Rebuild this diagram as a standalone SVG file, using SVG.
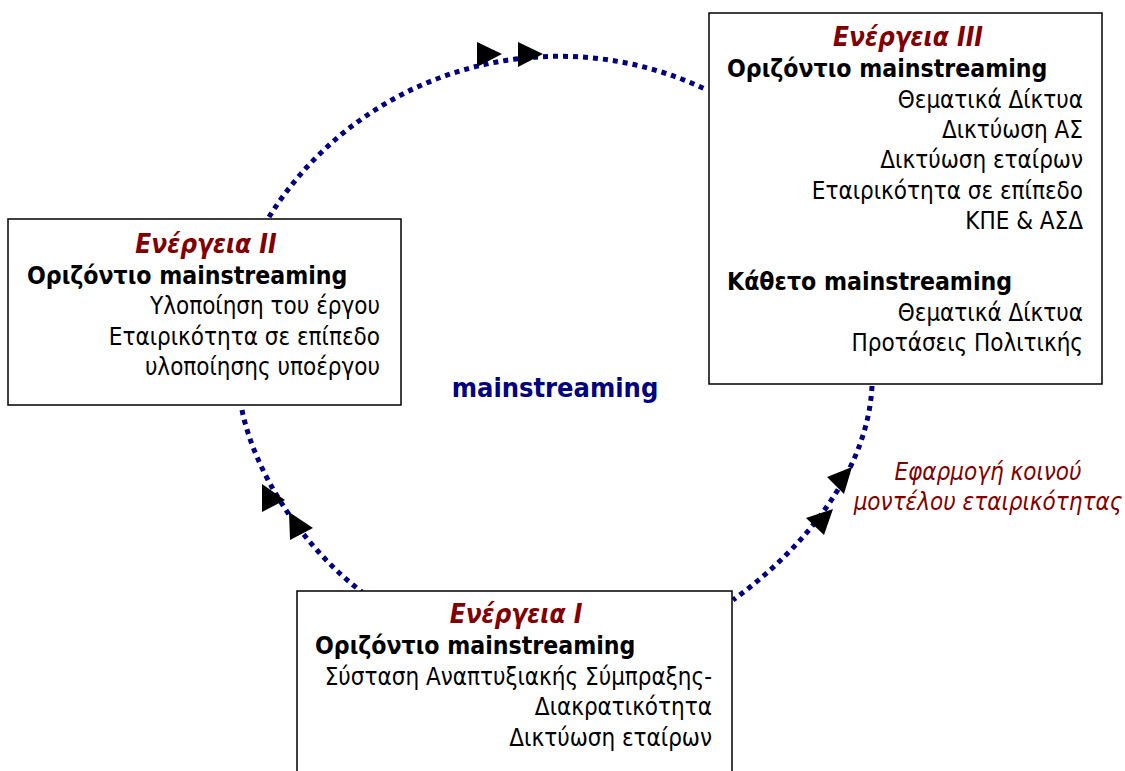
<svg xmlns="http://www.w3.org/2000/svg" width="1125" height="771" viewBox="0 0 1125 771">
<style>
text{font-family:"DejaVu Sans Condensed","DejaVu Sans",sans-serif;font-stretch:condensed;font-size:24px;fill:#000}
.box{fill:#fff;stroke:#000;stroke-width:1.5}
.act{font-weight:bold;font-style:italic;fill:#800000;text-anchor:middle;font-size:26px}
.hd{font-weight:bold;font-size:24.6px}
.r{text-anchor:end}
.lbl{font-style:italic;fill:#800000;text-anchor:middle;font-size:24px}
.mid{font-weight:bold;fill:#000080;text-anchor:middle;font-size:27px}
.dot{fill:none;stroke:#000080;stroke-width:5;stroke-dasharray:5 5}
.ah{fill:#000}
</style>
<rect width="1125" height="771" fill="#fff"/>
<g id="connectors">
<path class="dot" d="M269,217 A342,342 0 0 1 705,89"/>
<path class="dot" d="M242,410 C254,470 300,545 362,592"/>
<path class="dot" d="M872,386 C868,470 805,548 733,600"/>
<polygon class="ah" points="477,42 477,67 502,54"/>
<polygon class="ah" points="518,42 518,67 543,54"/>
<polygon class="ah" points="262,484 262,512 285,500"/>
<polygon class="ah" points="289,512 290,540 313,528"/>
<polygon class="ah" points="852,467 827,477 844,494"/>
<polygon class="ah" points="833,509 806,518 824,535"/>
</g>
<g id="label-mainstreaming">
<text class="mid" x="555" y="397">mainstreaming</text>
</g>
<g id="label-model">
<text class="lbl" x="988" y="480">Εφαρμογή κοινού</text>
<text class="lbl" x="988" y="510">μοντέλου εταιρικότητας</text>
</g>
<g id="node-energeia-3">
<rect class="box" x="709" y="13" width="393" height="371"/>
<text class="act" x="908" y="46">Ενέργεια III</text>
<text class="hd" x="727" y="77">Οριζόντιο mainstreaming</text>
<text class="r" x="1083" y="108">Θεματικά Δίκτυα</text>
<text class="r" x="1083" y="138">Δικτύωση ΑΣ</text>
<text class="r" x="1083" y="168">Δικτύωση εταίρων</text>
<text class="r" x="1083" y="199">Εταιρικότητα σε επίπεδο</text>
<text class="r" x="1083" y="229">ΚΠΕ &amp; ΑΣΔ</text>
<text class="hd" x="727" y="290">Κάθετο mainstreaming</text>
<text class="r" x="1083" y="321">Θεματικά Δίκτυα</text>
<text class="r" x="1083" y="351">Προτάσεις Πολιτικής</text>
</g>
<g id="node-energeia-2">
<rect class="box" x="8" y="219" width="393" height="186"/>
<text class="act" x="206" y="253">Ενέργεια II</text>
<text class="hd" x="27" y="284">Οριζόντιο mainstreaming</text>
<text class="r" x="380" y="314">Υλοποίηση του έργου</text>
<text class="r" x="380" y="345">Εταιρικότητα σε επίπεδο</text>
<text class="r" x="380" y="375">υλοποίησης υποέργου</text>
</g>
<g id="node-energeia-1">
<rect class="box" x="297" y="591" width="435" height="190"/>
<text class="act" x="516" y="623">Ενέργεια I</text>
<text class="hd" x="315" y="654">Οριζόντιο mainstreaming</text>
<text class="r" x="712" y="685">Σύσταση Αναπτυξιακής Σύμπραξης-</text>
<text class="r" x="712" y="715">Διακρατικότητα</text>
<text class="r" x="712" y="746">Δικτύωση εταίρων</text>
</g>
</svg>
